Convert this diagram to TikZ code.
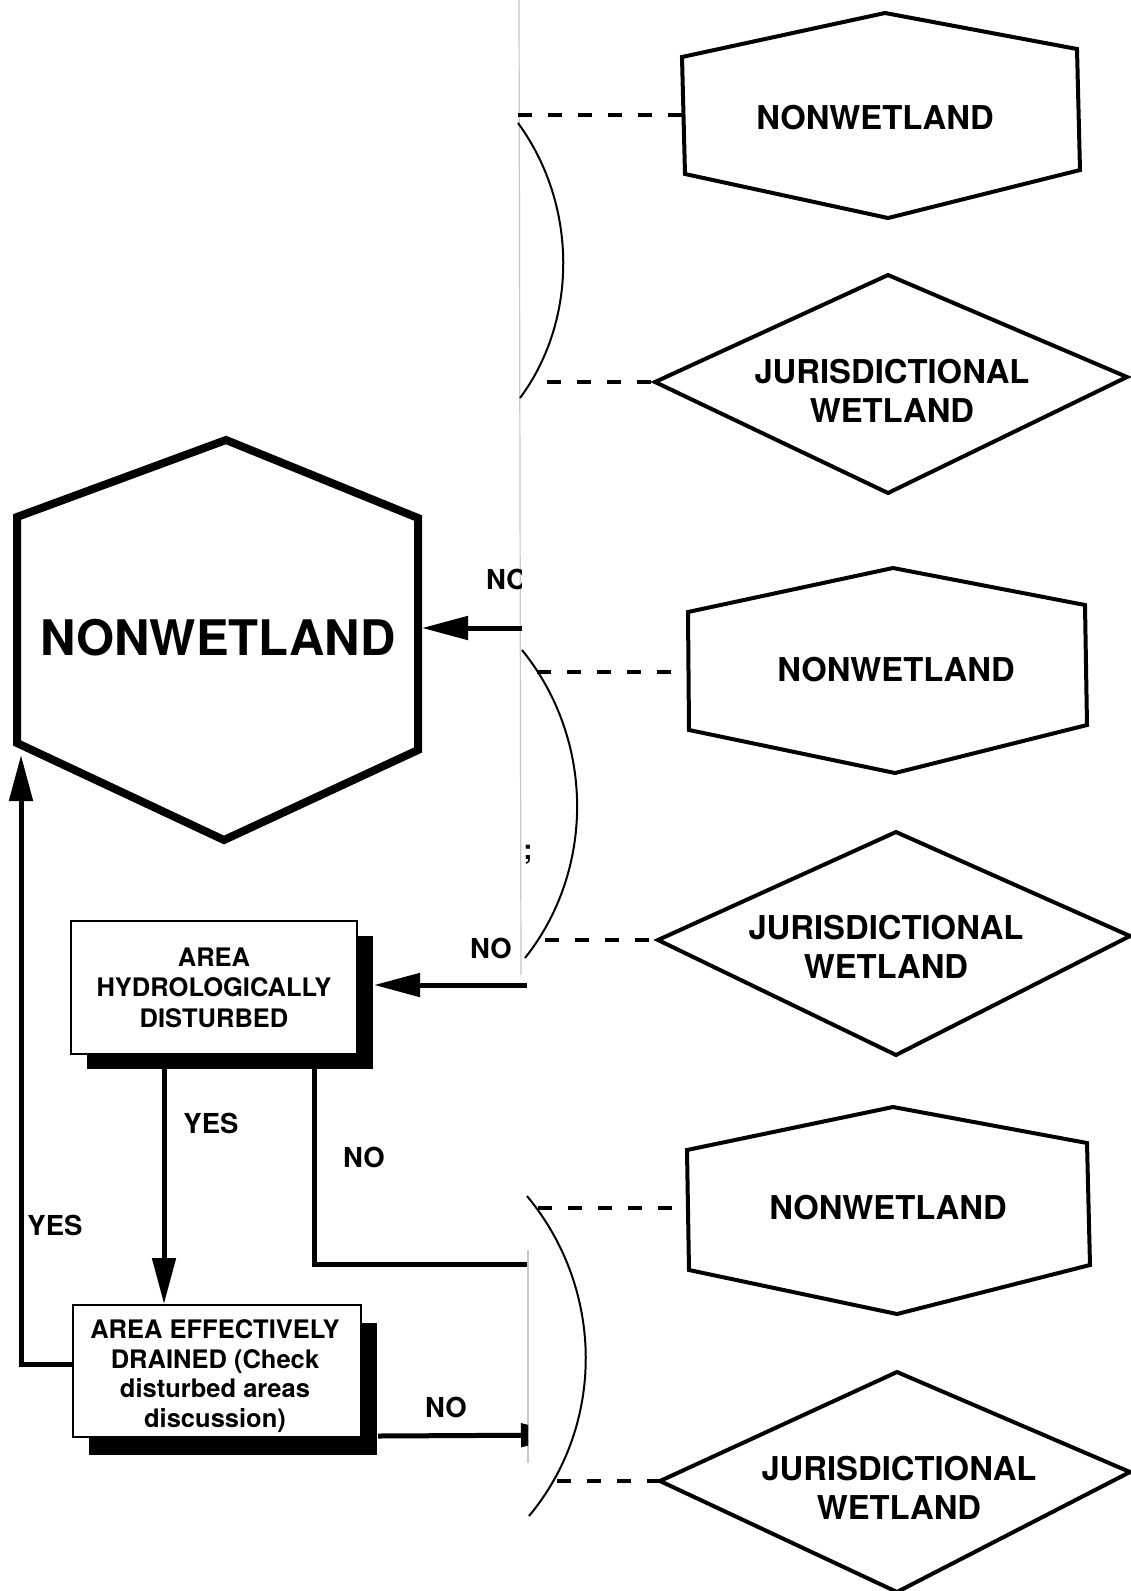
\documentclass[tikz,border=0pt]{standalone}
\usepackage{fontspec}
\setmainfont{TeX Gyre Heros}
\usetikzlibrary{arrows.meta,shadows,calc}
\begin{document}
\begin{tikzpicture}[x=1pt,y=-1pt,
  arr/.style={line width=5pt,-{Triangle[length=46pt,width=23pt]}},
  plain/.style={line width=5pt},
  outl/.style={line width=4pt,line join=miter},
  dsh/.style={line width=3.5pt,dash pattern=on 14pt off 16pt},
  brace/.style={line width=2pt},
  fold/.style={line width=1.2pt,black!22},
  lbl/.style={font=\fontsize{27.5}{30}\selectfont\bfseries,inner sep=0pt},
  shapetxt/.style={font=\fontsize{32.8}{38.5}\selectfont\bfseries,align=center,inner sep=0pt},
  boxA/.style={draw,line width=2pt,fill=white,align=center,inner sep=0pt,
    font=\fontsize{25.5}{30.5}\selectfont\bfseries},
  boxT/.style={align=center,inner sep=0pt,font=\fontsize{25.5}{29.7}\selectfont\bfseries},
]
\useasboundingbox[fill=white] (0,0) rectangle (1131,1591);

% page fold traces
\draw[fold] (519,0) -- (521,975);
\draw[fold] (528,1250) -- (528,1463);

% ---------- right column ----------
% hexagon 1
\draw[outl] (885,13) -- (1077,49) -- (1080,170) -- (888,218) -- (685,174) -- (682,57) -- cycle;
\coordinate (h1w) at (683,115);
\node[shapetxt] (h1) at (875,118) {NONWETLAND};
% diamond 1
\draw[outl] (888,275) -- (1127,377) -- (888,493) -- (655,382) -- cycle;
\coordinate (d1w) at (655,382);
\node[shapetxt] (d1) at (892,391) {JURISDICTIONAL\\WETLAND};
% hexagon 2
\draw[outl] (893,568) -- (1085,605) -- (1087,725) -- (895,773) -- (689,730) -- (688,612) -- cycle;
\coordinate (h2w) at (688,672);
\node[shapetxt] (h2) at (896,670) {NONWETLAND};
% diamond 2
\draw[outl] (896,832) -- (1130,936) -- (896,1055) -- (658,940) -- cycle;
\coordinate (d2w) at (658,940);
\node[shapetxt] (d2) at (886,947) {JURISDICTIONAL\\WETLAND};
% hexagon 3
\draw[outl] (893,1107) -- (1087,1143) -- (1090,1265) -- (897,1314) -- (689,1270) -- (687,1150) -- cycle;
\coordinate (h3w) at (688,1208);
\node[shapetxt] (h3) at (888,1208) {NONWETLAND};
% diamond 3
\draw[outl] (897,1372) -- (1130,1472) -- (897,1592) -- (660,1481) -- cycle;
\coordinate (d3w) at (660,1481);
\node[shapetxt] (d3) at (899,1488) {JURISDICTIONAL\\WETLAND};

% braces (arcs)
\coordinate (a1s) at (518,123); \coordinate (a1e) at (520,398);
\draw[brace] (a1s) .. controls (578,205) and (578,320) .. (a1e);
\coordinate (a2s) at (522,650); \coordinate (a2e) at (525,958);
\draw[brace] (a2s) .. controls (595,740) and (595,870) .. (a2e);
\coordinate (a3s) at (527,1196); \coordinate (a3e) at (529,1516);
\draw[brace] (a3s) .. controls (605,1290) and (605,1425) .. (a3e);

% dashed connectors
\coordinate (k1) at (518,115);
\coordinate (k2) at (547,382);
\coordinate (k3) at (537,672);
\coordinate (k4) at (545,940);
\coordinate (k5) at (538,1208);
\coordinate (k6) at (557,1481);
\draw[dsh] (k1) -- (h1w);
\draw[dsh] (k2) -- (d1w);
\draw[dsh] (k3) -- (h2w);
\draw[dsh] (k4) -- (d2w);
\draw[dsh] (k5) -- (h3w);
\draw[dsh] (k6) -- (d3w);

% ---------- left column ----------
% big hexagon
\draw[line width=8pt,line join=miter] (226,440) -- (418,518) -- (418,750) -- (224,840) -- (17,743) -- (17,517) -- cycle;
\node[font=\fontsize{49}{55}\selectfont\bfseries,inner sep=0pt] (big) at (218,638) {NONWETLAND};
\coordinate (bigE) at (422,628);
\coordinate (bigSW) at (21,755);

% boxes
\node[boxA,minimum width=286pt,minimum height=133pt,
  drop shadow={shadow xshift=16pt,shadow yshift=-15pt,fill=black,opacity=1}]
  (hyd) at (214,987.5) {AREA\\HYDROLOGICALLY\\DISTURBED};
\node[boxA,minimum width=288pt,minimum height=132pt,
  drop shadow={shadow xshift=16pt,shadow yshift=-18pt,fill=black,opacity=1}]
  (drain) at (217,1371) {};
\node[boxT] (drainT) at (215,1376) {AREA EFFECTIVELY\\DRAINED (Check\\disturbed areas\\discussion)};

% cut ends at the fold
\coordinate (cut1) at (522,628);
\coordinate (cut2) at (527,985);
\coordinate (cut3) at (527,1264);
\coordinate (cut4) at (567,1435);

% connectors
\draw[arr] (cut1) -- (bigE);
\draw[arr] (cut2) -- (cut2 -| {$(hyd.east)+(16,0)$});
\draw[arr] ([xshift=-50pt]hyd.south) -- ([xshift=-50pt]hyd.south |- drain.north);
\draw[plain] ([xshift=100pt]hyd.south) |- (cut3);
\draw[arr] ([yshift=7pt]drain.west) -| (bigSW);
\begin{scope}
  \clip (0,0) rectangle (528,1591);
  \draw[arr] ([shift={(16pt,2pt)}]drain.south east) -- (cut4);
\end{scope}
\begin{scope}
  \clip (0,0) rectangle (521,1591);
  \node[lbl] (no1) at (507,579) {NO};
\end{scope}

% labels
\node[lbl] (no2) at (491,948) {NO};
\node[lbl] (yes1) at (211,1123) {YES};
\node[lbl] (no3) at (364,1157) {NO};
\node[lbl] (yes2) at (55,1225) {YES};
\node[lbl] (no4) at (446,1407) {NO};
\node[lbl] (semi) at (528,855) {;};
\end{tikzpicture}
\end{document}
